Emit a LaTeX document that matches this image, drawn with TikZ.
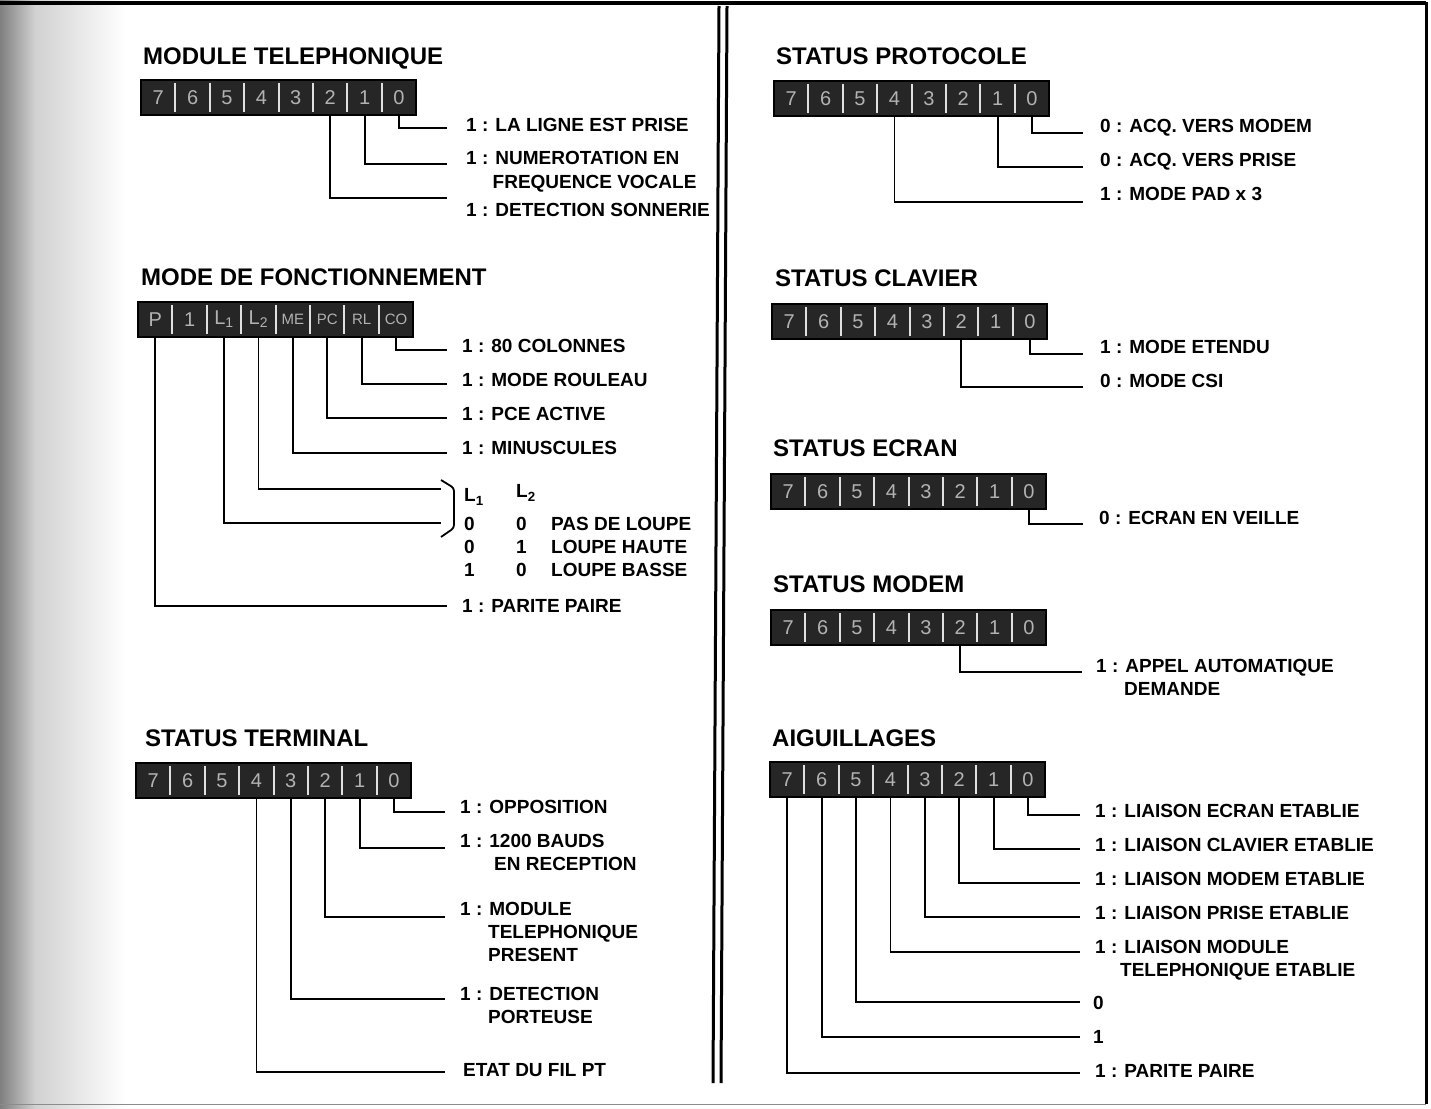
\documentclass[tikz,border=0pt]{standalone}
\usepackage{fontspec}
\setmainfont{Liberation Sans}
\newcommand{\cellsm}{\fontsize{15}{15}\selectfont}
\tikzset{
  lab/.style={anchor=west, inner sep=0pt, font=\fontsize{19}{22}\selectfont\bfseries, text height=13.6pt, text depth=0pt},
  ttl/.style={anchor=west, inner sep=0pt, font=\fontsize{24}{28}\selectfont\bfseries, text height=17.2pt, text depth=0pt},
  lead/.style={line width=1.8pt, line join=miter},
  bitcell/.style={minimum width=34.4pt, minimum height=35pt, inner sep=0pt, text=black!30, font=\fontsize{20}{20}\selectfont},
  boxfill/.style={fill=black!85},
  sepline/.style={draw=black!12, line width=2pt},
}
\newcommand{\bitrow}[4]{%
  \fill[boxfill] (#2,#3) rectangle ++(275.2,35);
  \foreach \lab [count=\i from 0] in {#4}{%
    \pgfmathtruncatemacro{\k}{7-\i}%
    \node[bitcell] (#1\k) at ({#2+34.4*\i+17.2},{#3+17.5}) {\lab};
  }%
  \foreach \i in {1,...,7}{\draw[sepline] ({#2+34.4*\i},{#3+3}) -- ++(0,29);}%
  \draw[black, line width=1.5pt] (#2,#3) rectangle ++(275.2,35);
}
\begin{document}
\begin{tikzpicture}[x=1pt,y=-1pt]
\useasboundingbox (0,0) rectangle (1431,1108);
\fill[white] (0,0) rectangle (1431,1108);
% scan shadow on the left edge
\shade[left color=black!50, right color=black!18] (0,0) rectangle (35,1108);
\shade[left color=black!18, right color=white] (35,0) rectangle (125,1108);
% frame
\draw[line width=4pt] (0,3) -- (1426,3);
\draw[line width=3pt] (1426,2) -- (1426,1104);
\draw[black!45, line width=0.8pt] (0,1104) -- (1426,1104);
% double separator
\draw[line width=3pt] (719,6) -- (713,1083);
\draw[line width=3pt] (727,6) -- (721,1083);

% ================= MODULE TELEPHONIQUE
\node[ttl] (t1) at (143,56) {MODULE TELEPHONIQUE};
\bitrow{tel}{141}{80}{7,6,5,4,3,2,1,0}
\coordinate (tele0) at (447,128);
\coordinate (tele1) at (447,164);
\coordinate (tele2) at (447,198);
\draw[lead] (tel0.south) |- (tele0);
\draw[lead] (tel1.south) |- (tele1);
\draw[lead] (tel2.south) |- (tele2);
\node[lab] (tl0) at (466,125) {1 : LA LIGNE EST PRISE};
\node[lab] (tl1) at (466,158) {1 : NUMEROTATION EN};
\node[lab] (tl1b) at (492.5,182) {FREQUENCE VOCALE};
\node[lab] (tl2) at (466,210) {1 : DETECTION SONNERIE};

% ================= MODE DE FONCTIONNEMENT
\node[ttl] (t2) at (141,277) {MODE DE FONCTIONNEMENT};
\bitrow{mod}{138}{302}{P,1,{L\textsubscript{1}},{L\textsubscript{2}},{\cellsm ME},{\cellsm PC},{\cellsm RL},{\cellsm CO}}
\coordinate (mode0) at (447,350);
\coordinate (mode1) at (447,384);
\coordinate (mode2) at (447,418);
\coordinate (mode3) at (447,453);
\coordinate (mode4) at (441,489);
\coordinate (mode5) at (441,523);
\coordinate (mode7) at (447,606);
\draw[lead] (mod0.south) |- (mode0);
\draw[lead] (mod1.south) |- (mode1);
\draw[lead] (mod2.south) |- (mode2);
\draw[lead] (mod3.south) |- (mode3);
\draw[lead] (mod4.south) |- (mode4);
\draw[lead] (mod5.south) |- (mode5);
\draw[lead] (mod7.south) |- (mode7);
\node[lab] (ml0) at (462,346) {1 : 80 COLONNES};
\node[lab] (ml1) at (462,380) {1 : MODE ROULEAU};
\node[lab] (ml2) at (462,414) {1 : PCE ACTIVE};
\node[lab] (ml3) at (462,448) {1 : MINUSCULES};
\draw[line width=1.8pt, rounded corners=3pt] (441,480) -- (454,488) -- (454,528) -- (441,537);
\node[lab] (hl1) at (464,495) {L\textsubscript{1}};
\node[lab] (hl2) at (516,491) {L\textsubscript{2}};
\node[lab] (r1a) at (464,524) {0};
\node[lab] (r1b) at (516,524) {0};
\node[lab] (r1c) at (551,524) {PAS DE LOUPE};
\node[lab] (r2a) at (464,547) {0};
\node[lab] (r2b) at (516,547) {1};
\node[lab] (r2c) at (551,547) {LOUPE HAUTE};
\node[lab] (r3a) at (464,570) {1};
\node[lab] (r3b) at (516,570) {0};
\node[lab] (r3c) at (551,570) {LOUPE BASSE};
\node[lab] (ml7) at (462,606) {1 : PARITE PAIRE};

% ================= STATUS TERMINAL
\node[ttl] (t3) at (145,738) {STATUS TERMINAL};
\bitrow{ter}{136}{763}{7,6,5,4,3,2,1,0}
\coordinate (tere0) at (445,812);
\coordinate (tere1) at (445,848);
\coordinate (tere2) at (445,917);
\coordinate (tere3) at (445,999);
\coordinate (tere4) at (445,1072);
\draw[lead] (ter0.south) |- (tere0);
\draw[lead] (ter1.south) |- (tere1);
\draw[lead] (ter2.south) |- (tere2);
\draw[lead] (ter3.south) |- (tere3);
\draw[lead] (ter4.south) |- (tere4);
\node[lab] (sl0) at (460,807) {1 : OPPOSITION};
\node[lab] (sl1) at (460,841) {1 : 1200 BAUDS};
\node[lab] (sl1b) at (494,864) {EN RECEPTION};
\node[lab] (sl2) at (460,909) {1 : MODULE};
\node[lab] (sl2b) at (488,932) {TELEPHONIQUE};
\node[lab] (sl2c) at (488,955) {PRESENT};
\node[lab] (sl3) at (460,994) {1 : DETECTION};
\node[lab] (sl3b) at (488,1017) {PORTEUSE};
\node[lab] (sl4) at (463,1070) {ETAT DU FIL PT};

% ================= STATUS PROTOCOLE
\node[ttl] (t4) at (776,56) {STATUS PROTOCOLE};
\bitrow{pro}{774}{81}{7,6,5,4,3,2,1,0}
\coordinate (proe0) at (1083,133);
\coordinate (proe1) at (1083,167);
\coordinate (proe4) at (1083,202);
\draw[lead] (pro0.south) |- (proe0);
\draw[lead] (pro1.south) |- (proe1);
\draw[lead] (pro4.south) |- (proe4);
\node[lab] (pl0) at (1100,126) {0 : ACQ. VERS MODEM};
\node[lab] (pl1) at (1100,160) {0 : ACQ. VERS PRISE};
\node[lab] (pl4) at (1100,194) {1 : MODE PAD x 3};

% ================= STATUS CLAVIER
\node[ttl] (t5) at (775,278) {STATUS CLAVIER};
\bitrow{cla}{772}{304}{7,6,5,4,3,2,1,0}
\coordinate (clae0) at (1083,354);
\coordinate (clae2) at (1083,387);
\draw[lead] (cla0.south) |- (clae0);
\draw[lead] (cla2.south) |- (clae2);
\node[lab] (cl0) at (1100,347) {1 : MODE ETENDU};
\node[lab] (cl2) at (1100,381) {0 : MODE CSI};

% ================= STATUS ECRAN
\node[ttl] (t6) at (773,448) {STATUS ECRAN};
\bitrow{ecr}{771}{474}{7,6,5,4,3,2,1,0}
\coordinate (ecre0) at (1083,524);
\draw[lead] (ecr0.south) |- (ecre0);
\node[lab] (el0) at (1099,518) {0 : ECRAN EN VEILLE};

% ================= STATUS MODEM
\node[ttl] (t7) at (773,584) {STATUS MODEM};
\bitrow{mdm}{771}{610}{7,6,5,4,3,2,1,0}
\coordinate (mdme2) at (1082,672);
\draw[lead] (mdm2.south) |- (mdme2);
\node[lab] (dl2) at (1096,666) {1 : APPEL AUTOMATIQUE};
\node[lab] (dl2b) at (1124,689) {DEMANDE};

% ================= AIGUILLAGES
\node[ttl] (t8) at (772,738) {AIGUILLAGES};
\bitrow{aig}{770}{762}{7,6,5,4,3,2,1,0}
\coordinate (aige0) at (1080,815);
\coordinate (aige1) at (1080,849);
\coordinate (aige2) at (1080,883);
\coordinate (aige3) at (1080,917);
\coordinate (aige4) at (1080,952);
\coordinate (aige5) at (1080,1002);
\coordinate (aige6) at (1080,1037);
\coordinate (aige7) at (1080,1073);
\draw[lead] (aig0.south) |- (aige0);
\draw[lead] (aig1.south) |- (aige1);
\draw[lead] (aig2.south) |- (aige2);
\draw[lead] (aig3.south) |- (aige3);
\draw[lead] (aig4.south) |- (aige4);
\draw[lead] (aig5.south) |- (aige5);
\draw[lead] (aig6.south) |- (aige6);
\draw[lead] (aig7.south) |- (aige7);
\node[lab] (al0) at (1095,811) {1 : LIAISON ECRAN ETABLIE};
\node[lab] (al1) at (1095,845) {1 : LIAISON CLAVIER ETABLIE};
\node[lab] (al2) at (1095,879) {1 : LIAISON MODEM ETABLIE};
\node[lab] (al3) at (1095,913) {1 : LIAISON PRISE ETABLIE};
\node[lab] (al4) at (1095,947) {1 : LIAISON MODULE};
\node[lab] (al4b) at (1120,970) {TELEPHONIQUE ETABLIE};
\node[lab] (al5) at (1093,1003) {0};
\node[lab] (al6) at (1093,1037) {1};
\node[lab] (al7) at (1095,1071) {1 : PARITE PAIRE};
\end{tikzpicture}
\end{document}
